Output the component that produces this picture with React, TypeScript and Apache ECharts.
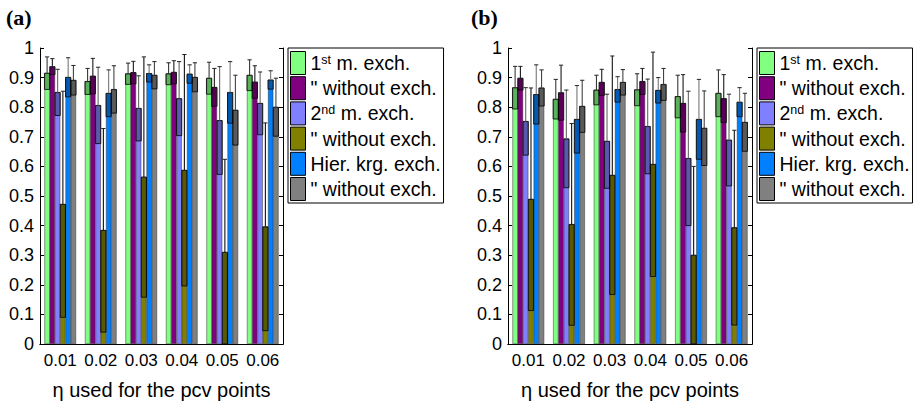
import React, { useEffect, useRef } from 'react';
import * as echarts from 'echarts';

// η values on the x axis
const categories = ['0.01', '0.02', '0.03', '0.04', '0.05', '0.06'];

// one key per method, same order in both panels
const methodKeys = ['m1', 'm1x', 'm2', 'm2x', 'hk', 'hkx'];
const methodLabels = [
  '{n|1}{s|st}{n| m. exch.}',
  '{n|" without exch.}',
  '{n|2}{s|nd}{n| m. exch.}',
  '{n|" without exch.}',
  '{n|Hier. krg. exch.}',
  '{n|" without exch.}',
];
const methodColors = ['#80ff80', '#800080', '#8080ff', '#808000', '#0080ff', '#808080'];
const whiskerColors = ['#3a3a3a', '#1a1a1a', '#666666', '#111111', '#777777', '#444444'];

const yTicks = [0, 0.1, 0.2, 0.3, 0.4, 0.5, 0.6, 0.7, 0.8, 0.9, 1];

// panel (a): means and error half-widths
const aM1 = [0.915, 0.887, 0.913, 0.913, 0.898, 0.908];
const aM1Err = [0.055, 0.044, 0.036, 0.037, 0.054, 0.052];
const aM1x = [0.937, 0.905, 0.917, 0.918, 0.867, 0.885];
const aM1xErr = [0.027, 0.06, 0.038, 0.039, 0.064, 0.055];
const aM2 = [0.85, 0.806, 0.796, 0.829, 0.755, 0.813];
const aM2Err = [0.078, 0.129, 0.11, 0.125, 0.182, 0.106];
const aM2x = [0.472, 0.384, 0.564, 0.587, 0.31, 0.396];
const aM2xErr = [0.382, 0.344, 0.406, 0.391, 0.314, 0.351];
const aHk = [0.901, 0.847, 0.914, 0.912, 0.85, 0.892];
const aHkErr = [0.066, 0.079, 0.029, 0.031, 0.104, 0.031];
const aHkx = [0.891, 0.86, 0.908, 0.901, 0.79, 0.8];
const aHkxErr = [0.05, 0.08, 0.046, 0.049, 0.118, 0.098];

// panel (b): means and error half-widths
const bM1 = [0.866, 0.827, 0.858, 0.859, 0.836, 0.847];
const bM1Err = [0.072, 0.067, 0.05, 0.054, 0.072, 0.079];
const bM1x = [0.898, 0.849, 0.884, 0.887, 0.813, 0.829];
const bM1xErr = [0.04, 0.093, 0.044, 0.044, 0.097, 0.081];
const bM2 = [0.752, 0.693, 0.685, 0.735, 0.627, 0.689];
const bM2Err = [0.114, 0.165, 0.159, 0.16, 0.227, 0.155];
const bM2x = [0.489, 0.404, 0.57, 0.607, 0.3, 0.393];
const bM2xErr = [0.376, 0.341, 0.403, 0.379, 0.3, 0.329];
const bHk = [0.843, 0.759, 0.86, 0.857, 0.759, 0.817];
const bHkErr = [0.1, 0.114, 0.043, 0.043, 0.135, 0.049];
const bHkx = [0.865, 0.803, 0.884, 0.877, 0.729, 0.749];
const bHkxErr = [0.061, 0.088, 0.043, 0.054, 0.126, 0.098];

const FONT = '"Liberation Sans", Arial, Helvetica, sans-serif';
const BAR_CATEGORY_GAP = 0.22;
const BAR_GAP = 0;

type Panel = {
  prefix: string;
  means: number[][];
  errs: number[][];
};

const panels: Panel[] = [
  { prefix: 'a', means: [aM1, aM1x, aM2, aM2x, aHk, aHkx], errs: [aM1Err, aM1xErr, aM2Err, aM2xErr, aHkErr, aHkxErr] },
  { prefix: 'b', means: [bM1, bM1x, bM2, bM2x, bHk, bHkx], errs: [bM1Err, bM1xErr, bM2Err, bM2xErr, bHkErr, bHkxErr] },
];

const grids = [
  { left: 40, top: 48, width: 243, height: 296 },
  { left: 508, top: 48, width: 244, height: 296 },
];
const legendLefts = [288, 757];

// error bar drawn at the centre of each grouped bar, same layout rule as the bar series
const renderError = (params: any, api: any) => {
  const cat = api.value(0);
  const k = api.value(1);
  const v = api.value(2);
  const e = api.value(3);
  const n = methodKeys.length;
  const band = api.size([1, 0])[0];
  const bw = (band - band * BAR_CATEGORY_GAP) / (n + (n - 1) * BAR_GAP);
  const total = n * bw + (n - 1) * bw * BAR_GAP;
  const base = api.coord([cat, 0]);
  const cx = base[0] - total / 2 + k * bw * (1 + BAR_GAP) + bw / 2;
  const yTop = api.coord([cat, v])[1];
  const yLow = api.coord([cat, Math.max(0, v - e)])[1];
  const yHigh = api.coord([cat, v + e])[1];
  const cap = bw * 0.8;
  return {
    type: 'group',
    children: [
      {
        type: 'rect',
        shape: { x: cx - bw / 2, y: yTop, width: bw, height: yLow - yTop },
        style: { fill: 'rgba(0,0,0,0.3)', stroke: '#000', lineWidth: 0.8 },
      },
      {
        type: 'line',
        shape: { x1: cx, y1: yTop, x2: cx, y2: yHigh },
        style: { stroke: whiskerColors[k], lineWidth: 1.1 },
      },
      {
        type: 'line',
        shape: { x1: cx - cap / 2, y1: yHigh, x2: cx + cap / 2, y2: yHigh },
        style: { stroke: '#222', lineWidth: 1 },
      },
    ],
  };
};

const buildOption = () => {
  const xAxis: any[] = [];
  const yAxis: any[] = [];
  const series: any[] = [];
  const legend: any[] = [];
  const labelByName: Record<string, string> = {};

  panels.forEach((p, gi) => {
    xAxis.push({
      type: 'category',
      gridIndex: gi,
      data: categories,
      position: 'bottom',
      axisLine: { lineStyle: { color: '#000', width: 1 } },
      axisTick: { inside: true, alignWithLabel: true, length: 4, lineStyle: { color: '#000' } },
      axisLabel: { color: '#000', fontSize: 17, fontFamily: FONT, margin: 8, interval: 0, hideOverlap: false },
      name: 'η used for the pcv points',
      nameLocation: 'middle',
      nameGap: 36,
      nameTextStyle: { color: '#000', fontSize: 20, fontFamily: FONT },
    });
    xAxis.push({
      type: 'category',
      gridIndex: gi,
      data: categories,
      position: 'top',
      axisLine: { lineStyle: { color: '#000', width: 1 } },
      axisTick: { inside: true, alignWithLabel: true, length: 4, interval: 0, lineStyle: { color: '#000' } },
      axisLabel: { show: false },
    });
    yAxis.push({
      type: 'value',
      gridIndex: gi,
      position: 'left',
      min: 0,
      max: 1,
      interval: 0.1,
      splitLine: { show: false },
      axisLine: { show: true, lineStyle: { color: '#000', width: 1 } },
      axisTick: { show: true, inside: true, length: 4, lineStyle: { color: '#000' } },
      axisLabel: {
        color: '#000',
        fontSize: 18,
        fontFamily: FONT,
        margin: 6,
        formatter: (v: number) => {
          const t = yTicks.find((x) => Math.abs(x - v) < 1e-6);
          return t === undefined ? '' : String(t);
        },
      },
    });
    yAxis.push({
      type: 'value',
      gridIndex: gi,
      position: 'right',
      min: 0,
      max: 1,
      interval: 0.1,
      splitLine: { show: false },
      axisLine: { show: true, lineStyle: { color: '#000', width: 1 } },
      axisTick: { show: true, inside: true, length: 4, lineStyle: { color: '#000' } },
      axisLabel: { show: false },
    });

    const names: string[] = [];
    methodKeys.forEach((key, k) => {
      const name = `${p.prefix}-${key}`;
      names.push(name);
      labelByName[name] = methodLabels[k];
      series.push({
        type: 'bar',
        name,
        xAxisIndex: gi * 2,
        yAxisIndex: gi * 2,
        data: p.means[k],
        barGap: `${BAR_GAP * 100}%`,
        barCategoryGap: `${BAR_CATEGORY_GAP * 100}%`,
        itemStyle: { color: methodColors[k], borderColor: '#333', borderWidth: 0.5 },
        emphasis: { disabled: true },
        z: 2,
      });
    });

    const errData: number[][] = [];
    methodKeys.forEach((_, k) => {
      categories.forEach((_, i) => {
        errData.push([i, k, p.means[k][i], p.errs[k][i]]);
      });
    });
    series.push({
      type: 'custom',
      name: `${p.prefix}-err`,
      xAxisIndex: gi * 2,
      yAxisIndex: gi * 2,
      renderItem: renderError,
      encode: { x: 0, y: 2 },
      data: errData,
      silent: true,
      z: 5,
    });

    legend.push({
      data: names,
      orient: 'vertical',
      left: legendLefts[gi],
      top: 48,
      icon: 'rect',
      itemWidth: 15,
      itemHeight: 23,
      itemGap: 1.2,
      padding: [3, 3, 2, 2],
      backgroundColor: '#fff',
      borderColor: '#000',
      borderWidth: 1,
      selectedMode: false,
      itemStyle: { borderColor: '#000', borderWidth: 1 },
      formatter: (name: string) => labelByName[name],
      textStyle: {
        color: '#000',
        fontFamily: FONT,
        fontSize: 19.5,
        rich: {
          n: { color: '#000', fontFamily: FONT, fontSize: 19.5, lineHeight: 22 },
          s: { color: '#000', fontFamily: FONT, fontSize: 12.5, lineHeight: 22, padding: [0, 0, 7, 0] },
        },
      },
    });
  });

  return {
    animation: false,
    backgroundColor: '#fff',
    grid: grids.map((g) => ({ ...g, containLabel: false })),
    xAxis,
    yAxis,
    legend,
    series,
    graphic: [
      {
        type: 'text',
        left: 6,
        top: 6,
        style: { text: '(a)', font: 'bold 22px "Liberation Serif", "Times New Roman", serif', fill: '#000' },
      },
      {
        type: 'text',
        left: 471,
        top: 6,
        style: { text: '(b)', font: 'bold 22px "Liberation Serif", "Times New Roman", serif', fill: '#000' },
      },
    ],
  };
};

export default function App() {
  const ref = useRef<HTMLDivElement>(null);
  useEffect(() => {
    if (!ref.current) return;
    const chart = echarts.init(ref.current, undefined, { renderer: 'svg' });
    chart.setOption(buildOption() as any);
    return () => chart.dispose();
  }, []);
  return (
    <div
      ref={ref}
      style={{ position: 'fixed', left: 0, top: 0, width: 913, height: 406, background: '#fff' }}
    />
  );
}
